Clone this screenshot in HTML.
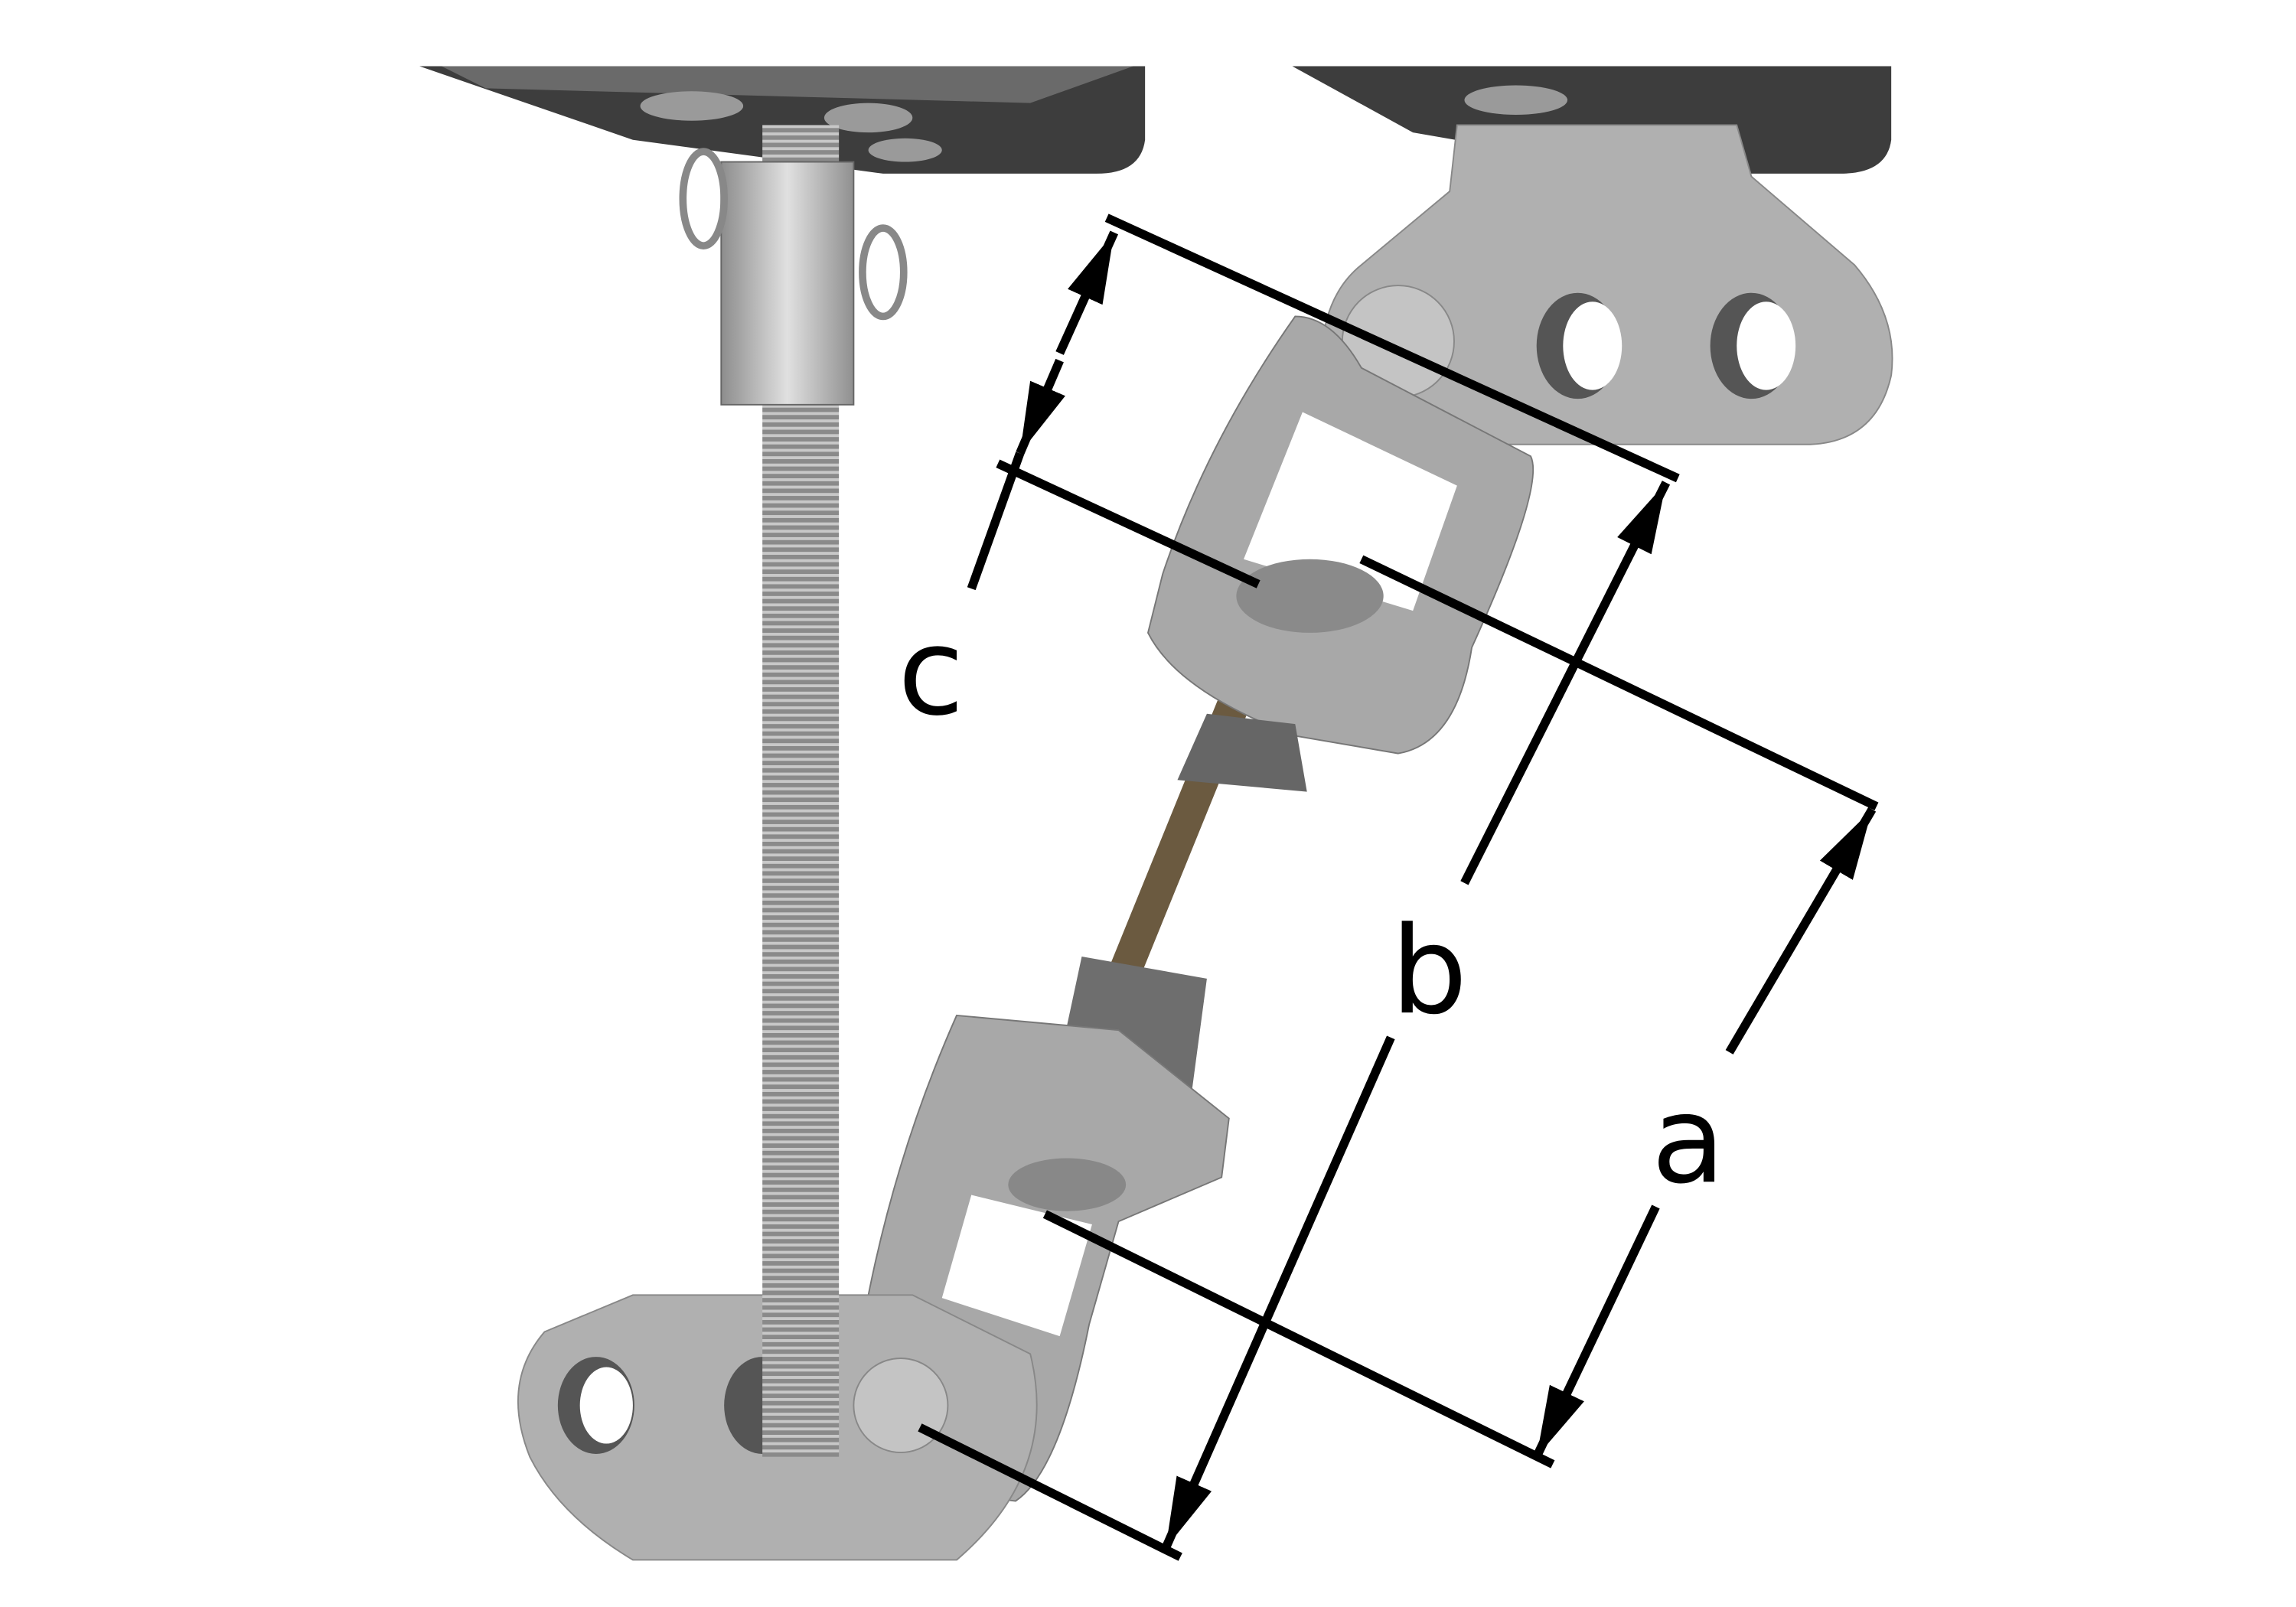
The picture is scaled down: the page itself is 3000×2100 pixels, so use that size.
<!DOCTYPE html>
<html><head><meta charset="utf-8"><style>
html,body{margin:0;padding:0;background:#fff;}
svg{display:block;}
</style></head><body>
<svg width="3000" height="2100" viewBox="0 0 1560 1092" xmlns="http://www.w3.org/2000/svg">
<defs>
<pattern id="thr" width="8" height="5" patternUnits="userSpaceOnUse">
<rect width="8" height="5" fill="#8a8a8a"/><rect width="8" height="2" fill="#c8c8c8"/>
</pattern>
<linearGradient id="metal" x1="0" x2="1"><stop offset="0" stop-color="#8d8d8d"/><stop offset="0.5" stop-color="#e0e0e0"/><stop offset="1" stop-color="#909090"/></linearGradient>
<marker id="ah" viewBox="0 0 10 10" refX="10" refY="5" markerWidth="8" markerHeight="8" orient="auto-start-reverse" markerUnits="strokeWidth"><path d="M0,2.3 L10,5 L0,7.7 z" fill="#000"/></marker>
</defs>
<rect width="1560" height="1092" fill="#fff"/>
<!-- top plates -->
<path d="M285,45 L778,45 L778,95 Q775,118 745,118 L600,118 L430,95 Z" fill="#3d3d3d"/>
<path d="M300,45 L770,45 L700,70 L330,60 Z" fill="#6a6a6a"/>
<ellipse cx="470" cy="72" rx="35" ry="10" fill="#9a9a9a"/>
<ellipse cx="590" cy="80" rx="30" ry="10" fill="#9a9a9a"/>
<ellipse cx="615" cy="102" rx="25" ry="8" fill="#9a9a9a"/>
<path d="M878,45 L1285,45 L1285,95 Q1282,118 1250,118 L1120,118 L960,90 Z" fill="#3d3d3d"/>
<ellipse cx="1030" cy="68" rx="35" ry="10" fill="#9a9a9a"/>
<!-- threaded rod -->
<rect x="518" y="85" width="52" height="905" fill="url(#thr)"/>
<!-- nut and pins -->
<rect x="490" y="110" width="90" height="165" fill="url(#metal)" stroke="#666"/>
<ellipse cx="478" cy="135" rx="14" ry="32" fill="none" stroke="#888" stroke-width="5"/>
<ellipse cx="600" cy="185" rx="14" ry="30" fill="none" stroke="#888" stroke-width="5"/>
<!-- top right bracket -->
<path d="M990,85 L1180,85 L1190,120 L1260,180 Q1290,215 1285,255 Q1275,300 1230,302 L960,302 Q900,290 898,240 Q900,200 925,180 L985,130 Z" fill="#b0b0b0" stroke="#888"/>
<circle cx="950" cy="232" r="38" fill="#c4c4c4" stroke="#888"/>
<ellipse cx="1072" cy="235" rx="28" ry="36" fill="#555"/><ellipse cx="1082" cy="235" rx="20" ry="30" fill="#fff"/>
<ellipse cx="1190" cy="235" rx="28" ry="36" fill="#555"/><ellipse cx="1200" cy="235" rx="20" ry="30" fill="#fff"/>
<!-- diagonal rod -->
<line x1="870" y1="400" x2="740" y2="720" stroke="#6b5a40" stroke-width="22"/>
<!-- upper eye link -->
<path d="M880,215 Q905,215 925,250 L1040,310 Q1050,330 1000,440 Q990,505 950,512 L880,500 Q800,470 780,430 L790,390 Q820,300 880,215 Z" fill="#a8a8a8" stroke="#777"/>
<path d="M885,280 L990,330 L960,415 L845,380 Z" fill="#fff"/>
<ellipse cx="890" cy="405" rx="50" ry="25" fill="#8a8a8a"/>
<polygon points="820,485 880,492 888,538 800,530" fill="#666"/>
<polygon points="735,650 820,665 810,740 720,720" fill="#6e6e6e"/>
<!-- lower eye link -->
<path d="M650,690 L760,700 L835,760 L830,800 L760,830 L740,900 Q720,1000 690,1020 L610,1010 Q580,960 590,880 Q610,780 650,690 Z" fill="#a8a8a8" stroke="#777"/>
<path d="M660,812 L742,832 L720,908 L640,882 Z" fill="#fff"/>
<ellipse cx="725" cy="805" rx="40" ry="18" fill="#888"/>
<!-- bottom left bracket -->
<path d="M430,880 L620,880 L700,920 Q720,1000 650,1060 L430,1060 Q380,1030 360,990 Q340,940 370,905 Z" fill="#b0b0b0" stroke="#888"/>
<ellipse cx="405" cy="955" rx="26" ry="33" fill="#555"/><ellipse cx="412" cy="955" rx="18" ry="26" fill="#fff"/>
<ellipse cx="518" cy="955" rx="26" ry="33" fill="#555"/>
<rect x="518" y="880" width="52" height="110" fill="url(#thr)"/>
<circle cx="612" cy="955" r="32" fill="#c4c4c4" stroke="#888"/>
<!-- dimension lines -->
<g stroke="#000" stroke-width="6" fill="none">
<line x1="752" y1="148" x2="1140" y2="325"/>
<line x1="678" y1="315" x2="855" y2="397"/>
<line x1="925" y1="380" x2="1275" y2="548"/>
<line x1="710" y1="825" x2="1055" y2="995"/>
<line x1="625" y1="970" x2="802" y2="1058"/>
<line x1="720" y1="240" x2="757" y2="158" marker-end="url(#ah)"/>
<line x1="720" y1="245" x2="693" y2="308" marker-end="url(#ah)"/>
<line x1="693" y1="308" x2="660" y2="400"/>
<line x1="995" y1="600" x2="1132" y2="328" marker-end="url(#ah)"/>
<line x1="945" y1="705" x2="792" y2="1052" marker-end="url(#ah)"/>
<line x1="1175" y1="715" x2="1272" y2="550" marker-end="url(#ah)"/>
<line x1="1125" y1="820" x2="1044" y2="990" marker-end="url(#ah)"/>
</g>
<g font-family="'DejaVu Sans','Liberation Sans',sans-serif" font-size="82" fill="#000">
<text x="610" y="485">c</text>
<text x="945" y="688">b</text>
<text x="1122" y="803">a</text>
</g>
</svg>
</body></html>
